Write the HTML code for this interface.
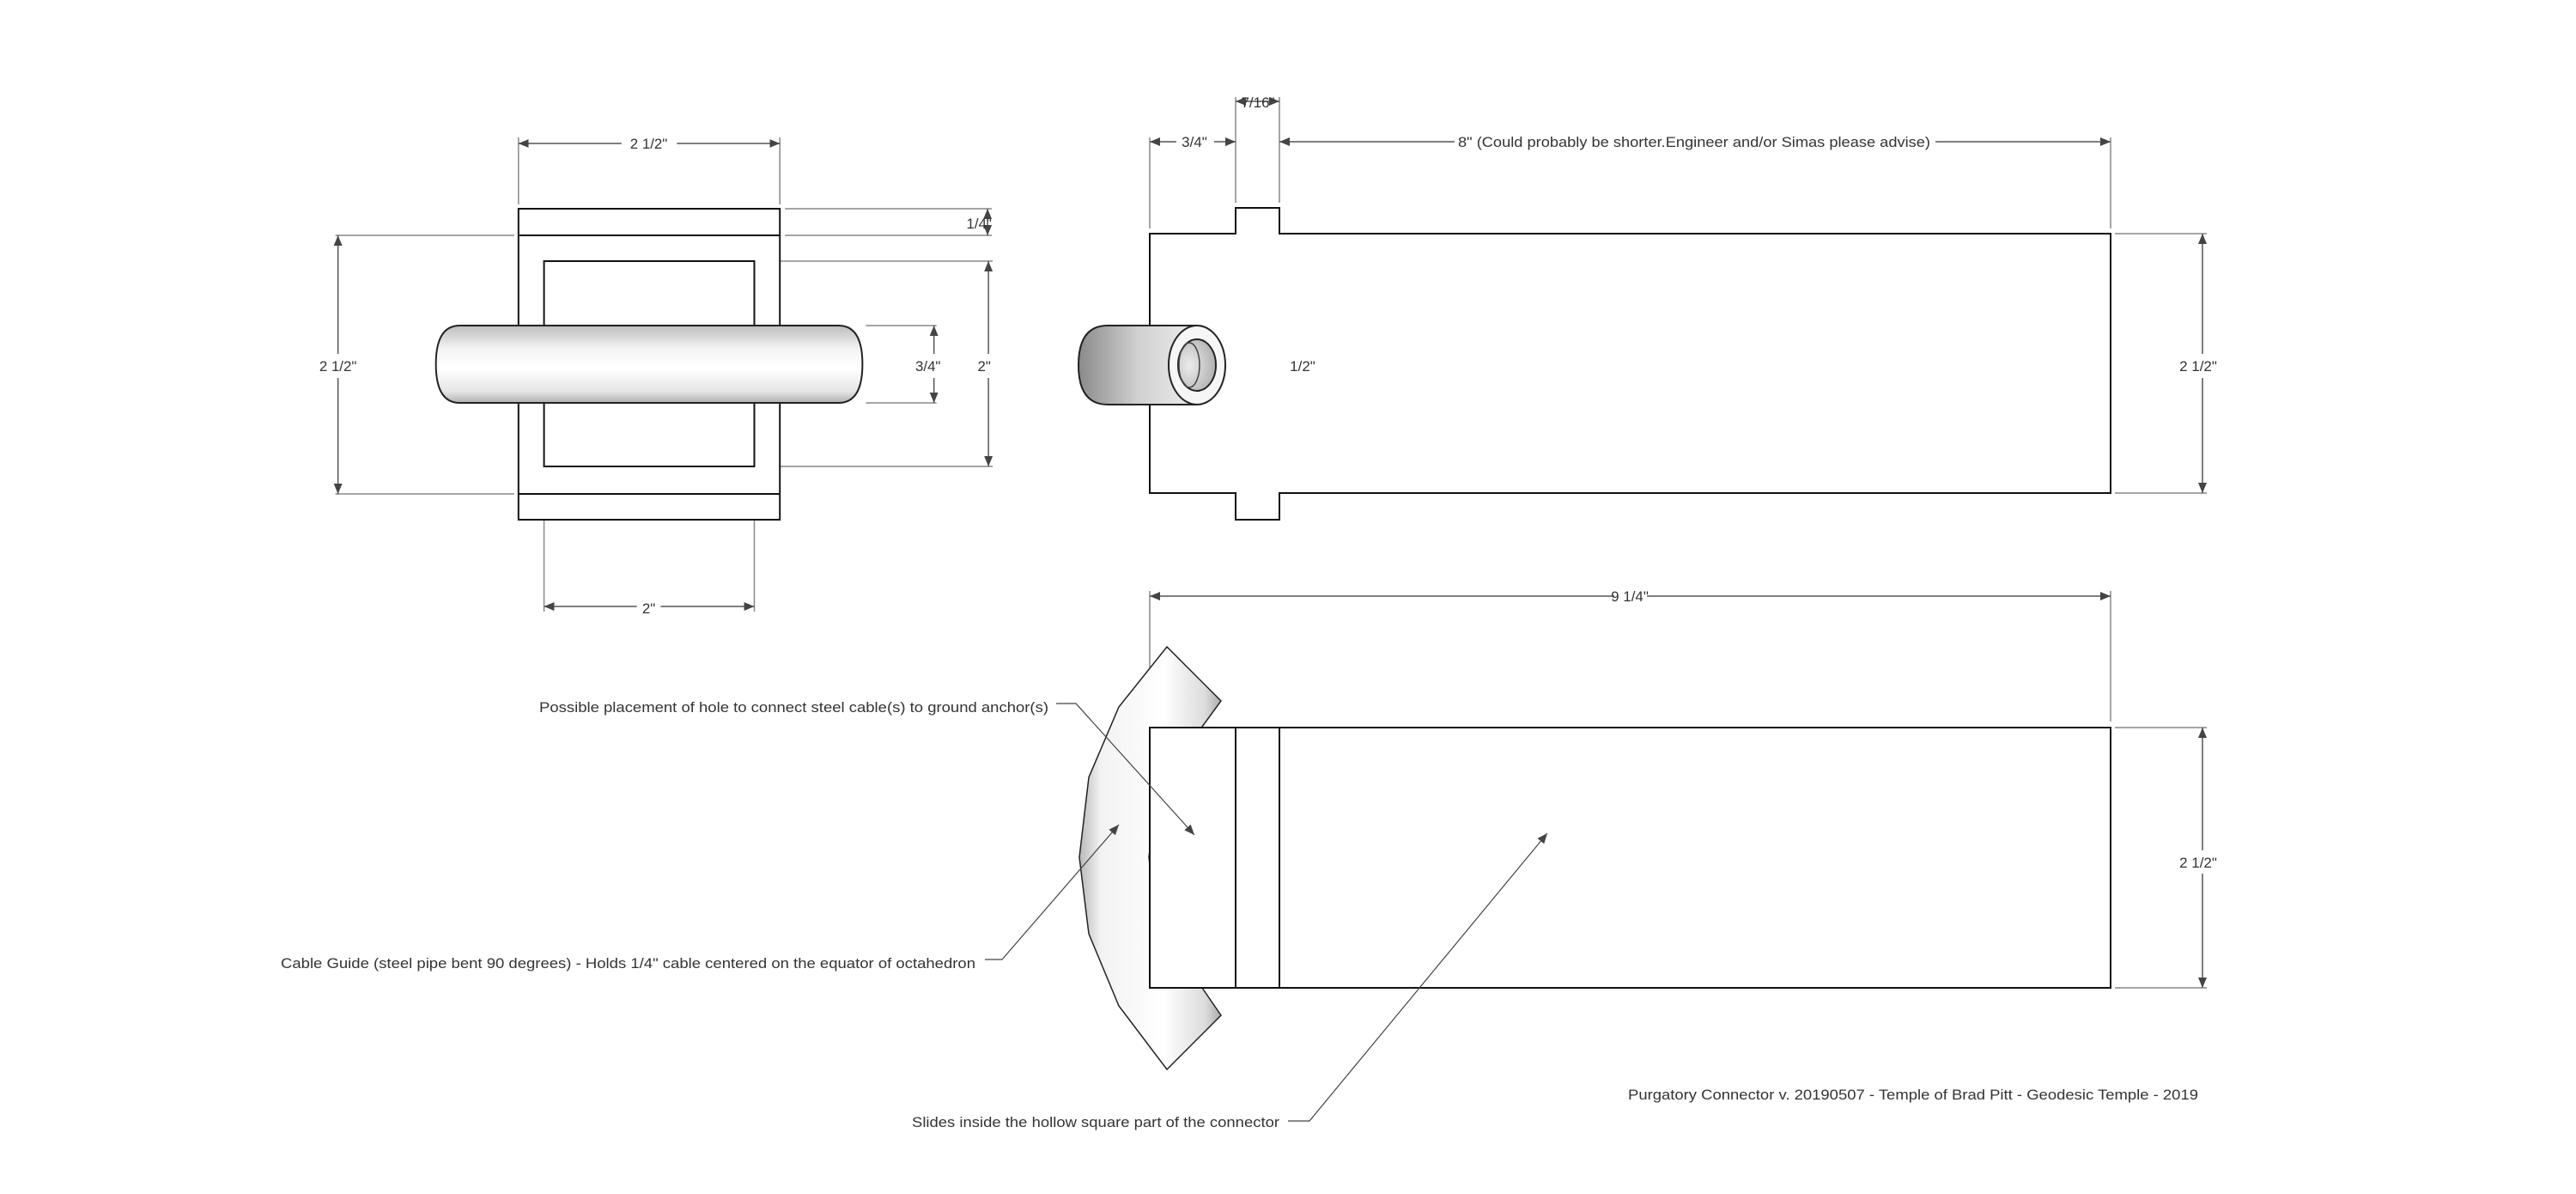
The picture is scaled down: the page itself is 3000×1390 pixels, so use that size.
<!DOCTYPE html>
<html><head><meta charset="utf-8"><style>
html,body{margin:0;padding:0;background:#fff;}
svg{display:block;}
text{font-family:"Liberation Sans",sans-serif;font-size:17px;fill:#333;}
</style></head><body>
<svg width="3000" height="1390" viewBox="0 0 3000 1390" xmlns="http://www.w3.org/2000/svg">
<defs>
<marker id="a" viewBox="0 0 12 10" refX="12" refY="5" markerWidth="12" markerHeight="10" markerUnits="userSpaceOnUse" orient="auto-start-reverse"><path d="M0,0 L12,5 L0,10 Z" fill="#444"/></marker>
<linearGradient id="cyl" x1="0" y1="0" x2="0" y2="1">
<stop offset="0" stop-color="#bdbdbd"/><stop offset="0.3" stop-color="#f4f4f4"/><stop offset="0.55" stop-color="#ffffff"/><stop offset="0.85" stop-color="#e6e6e6"/><stop offset="1" stop-color="#b0b0b0"/></linearGradient>
<linearGradient id="tube" x1="0" y1="0" x2="1" y2="0">
<stop offset="0" stop-color="#8a8a8a"/><stop offset="0.5" stop-color="#d0d0d0"/><stop offset="1" stop-color="#eeeeee"/></linearGradient>
<radialGradient id="hole" cx="0.3" cy="0.5" r="0.8"><stop offset="0" stop-color="#ececec"/><stop offset="1" stop-color="#a8a8a8"/></radialGradient>
<linearGradient id="pipe" x1="1257" y1="0" x2="1420" y2="0" gradientUnits="userSpaceOnUse">
<stop offset="0" stop-color="#b8b8b8"/><stop offset="0.15" stop-color="#f2f2f2"/><stop offset="0.6" stop-color="#ffffff"/><stop offset="0.9" stop-color="#dcdcdc"/><stop offset="1" stop-color="#b0b0b0"/></linearGradient>
</defs>

<!-- LEFT VIEW -->
<g transform="scale(0.9915,1)">
<g fill="none" stroke="#888" stroke-width="1.5">
<line x1="609" y1="160" x2="609" y2="238"/><line x1="916" y1="160" x2="916" y2="238"/>
<line x1="394" y1="274" x2="604" y2="274"/><line x1="394" y1="575" x2="604" y2="575"/>
<line x1="922" y1="243" x2="1165" y2="243"/><line x1="922" y1="274" x2="1165" y2="274"/>
<line x1="890" y1="304" x2="1166" y2="304"/><line x1="890" y1="543" x2="1166" y2="543"/>
<line x1="1017" y1="379" x2="1100" y2="379"/><line x1="1017" y1="469" x2="1100" y2="469"/>
<line x1="639" y1="550" x2="639" y2="712"/><line x1="886" y1="550" x2="886" y2="712"/>
</g>
<g stroke="#555" stroke-width="1.5" fill="none">
<line x1="609" y1="167" x2="730" y2="167" marker-start="url(#a)"/><line x1="795" y1="167" x2="916" y2="167" marker-end="url(#a)"/>
<line x1="397" y1="274" x2="397" y2="412" marker-start="url(#a)"/><line x1="397" y1="440" x2="397" y2="575" marker-end="url(#a)"/>
<line x1="1160" y1="243" x2="1160" y2="274" marker-start="url(#a)" marker-end="url(#a)"/>
<line x1="1161" y1="304" x2="1161" y2="412" marker-start="url(#a)"/><line x1="1161" y1="440" x2="1161" y2="543" marker-end="url(#a)"/>
<line x1="1097" y1="379" x2="1097" y2="412" marker-start="url(#a)"/><line x1="1097" y1="440" x2="1097" y2="469" marker-end="url(#a)"/>
<line x1="639" y1="706" x2="748" y2="706" marker-start="url(#a)"/><line x1="776" y1="706" x2="886" y2="706" marker-end="url(#a)"/>
</g>
<g fill="none" stroke="#111" stroke-width="2">
<rect x="609" y="243" width="307" height="362" fill="#fff"/>
<line x1="609" y1="274" x2="916" y2="274"/><line x1="609" y1="575" x2="916" y2="575"/>
<rect x="639" y="304" width="247" height="239"/>
</g>
<path d="M540,379 L985,379 Q1013,379 1013,424 Q1013,469 985,469 L540,469 Q512,469 512,424 Q512,379 540,379 Z" fill="url(#cyl)" stroke="#222" stroke-width="2"/>
<g text-anchor="middle">
<text x="762" y="173">2 1/2"</text>
<text x="397" y="432">2 1/2"</text>
<text x="1150" y="266">1/4"</text>
<text x="1156" y="432">2"</text>
<text x="1090" y="432">3/4"</text>
<text x="762" y="714">2"</text>
</g>
</g>

<!-- RIGHT VIEWS -->
<g fill="none" stroke="#888" stroke-width="1.5">
<line x1="1339" y1="160" x2="1339" y2="266"/><line x1="1439" y1="113" x2="1439" y2="236"/><line x1="1490" y1="113" x2="1490" y2="236"/><line x1="2458" y1="160" x2="2458" y2="266"/>
<line x1="2463" y1="272" x2="2570" y2="272"/><line x1="2463" y1="574" x2="2570" y2="574"/>
<line x1="1394" y1="396" x2="1522" y2="396"/><line x1="1394" y1="455" x2="1522" y2="455"/>
<line x1="1339" y1="688" x2="1339" y2="840"/><line x1="2458" y1="688" x2="2458" y2="840"/>
<line x1="2463" y1="847" x2="2570" y2="847"/><line x1="2463" y1="1150" x2="2570" y2="1150"/>
</g>
<g stroke="#555" stroke-width="1.5" fill="none">
<line x1="1339" y1="165" x2="1370" y2="165" marker-start="url(#a)"/><line x1="1414" y1="165" x2="1439" y2="165" marker-end="url(#a)"/>
<line x1="1439" y1="118" x2="1490" y2="118" marker-start="url(#a)" marker-end="url(#a)"/>
<line x1="1490" y1="165" x2="1694" y2="165" marker-start="url(#a)"/><line x1="2254" y1="165" x2="2458" y2="165" marker-end="url(#a)"/>
<line x1="2565" y1="272" x2="2565" y2="412" marker-start="url(#a)"/><line x1="2565" y1="440" x2="2565" y2="574" marker-end="url(#a)"/>
<line x1="1515" y1="396" x2="1515" y2="455" marker-start="url(#a)" marker-end="url(#a)"/>
<line x1="1339" y1="694" x2="1880" y2="694" marker-start="url(#a)"/><line x1="1918" y1="694" x2="2458" y2="694" marker-end="url(#a)"/>
<line x1="2565" y1="847" x2="2565" y2="990" marker-start="url(#a)"/><line x1="2565" y1="1017" x2="2565" y2="1150" marker-end="url(#a)"/>
</g>

<path d="M1339,272 L1439,272 L1439,242 L1490,242 L1490,272 L2458,272 L2458,574 L1490,574 L1490,605 L1439,605 L1439,574 L1339,574 Z" fill="#fff" stroke="#111" stroke-width="2"/>
<path d="M1290,379 L1394,379 L1394,471 L1290,471 Q1256,471 1256,425 Q1256,379 1290,379 Z" fill="url(#tube)" stroke="#222" stroke-width="2"/>
<ellipse cx="1394" cy="425" rx="33" ry="46" fill="#f6f6f6" stroke="#222" stroke-width="2"/>
<ellipse cx="1394" cy="425" rx="22" ry="30" fill="url(#hole)" stroke="#222" stroke-width="2"/>
<ellipse cx="1385" cy="425" rx="12" ry="26" fill="none" stroke="#444" stroke-width="1.5"/>

<path d="M1359,753 L1422,816 L1400,846 L1365,885 L1345,940 L1338,998 L1345,1055 L1365,1110 L1400,1150 L1422,1182 L1359,1245 L1303,1171 L1268,1087 L1257,998 L1268,905 L1303,823 Z" fill="url(#pipe)" stroke="#222" stroke-width="1.5"/>
<rect x="1339" y="847" width="1119" height="303" fill="#fff" stroke="#111" stroke-width="2"/>
<g stroke="#111" stroke-width="2"><line x1="1439" y1="847" x2="1439" y2="1150"/><line x1="1490" y1="847" x2="1490" y2="1150"/></g>

<g text-anchor="middle">
<text x="1391" y="171">3/4"</text>
<text x="1465" y="125">7/16"</text>
<text x="1973" y="171" textLength="550" lengthAdjust="spacingAndGlyphs">8" (Could probably be shorter.Engineer and/or Simas please advise)</text>
<text x="2560" y="432">2 1/2"</text>
<text x="1517" y="432">1/2"</text>
<text x="1898" y="700">9 1/4"</text>
<text x="2560" y="1010">2 1/2"</text>
</g>

<g stroke="#444" stroke-width="1.2" fill="none">
<polyline points="1230,819 1253,819 1391,972" marker-end="url(#a)"/>
<polyline points="1147,1117 1167,1117 1303,960" marker-end="url(#a)"/>
<polyline points="1500,1305 1525,1305 1802,970" marker-end="url(#a)"/>
</g>
<g text-anchor="end">
<text x="1221" y="829" textLength="593" lengthAdjust="spacingAndGlyphs">Possible placement of hole to connect steel cable(s) to ground anchor(s)</text>
<text x="1136" y="1127" textLength="809" lengthAdjust="spacingAndGlyphs">Cable Guide (steel pipe bent 90 degrees) - Holds 1/4" cable centered on the equator of octahedron</text>
<text x="1490" y="1312" textLength="428" lengthAdjust="spacingAndGlyphs">Slides inside the hollow square part of the connector</text>
<text x="2560" y="1280" textLength="664" lengthAdjust="spacingAndGlyphs">Purgatory Connector v. 20190507 - Temple of Brad Pitt - Geodesic Temple - 2019</text>
</g>
</svg>
</body></html>
